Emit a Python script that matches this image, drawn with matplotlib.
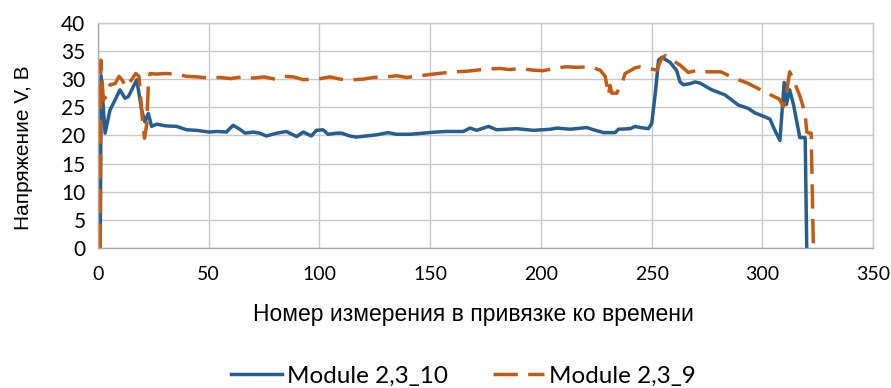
#!/usr/bin/env python3
"""
Voltage trace of two modules vs. measurement number
"""

import matplotlib
matplotlib.use('Agg')
import matplotlib.pyplot as plt
from matplotlib.ticker import MultipleLocator

# Module 2,3_10 (solid blue)
x_m10 = [1, 1.4, 3.2, 5.4, 7.7, 9.9, 12.2, 13.7, 17.5, 19.7, 21.2, 22.7, 24.2, 26.5,
         30.5, 35.5, 40, 44.6, 50, 53.6, 58, 61, 64, 66.4, 70, 73, 76, 80.7, 85,
         89.7, 92.7, 96.3, 98.6, 101.6, 103.9, 107.6, 110, 113.6, 116.6, 121.2,
         125.7, 131, 134.7, 140.7, 146.7, 152.7, 157.3, 164.9, 168, 171, 176.3,
         180, 189, 196.6, 204.2, 207.2, 213.2, 220.7, 223.7, 228.3, 233.5, 235,
         240.3, 242.5, 244.8, 248.5, 250, 251.6, 253.1, 254.6, 256.1, 258.3,
         261.3, 262.8, 264.3, 267.3, 269.6, 271.8, 277.1, 283.1, 289.1, 293.6,
         296.6, 301.1, 303.4, 305.6, 307.9, 309.8, 310.8, 312.3, 314, 316.9,
         319.3, 320]
v_m10 = [0, 30.6, 20.4, 24.5, 26.3, 28.1, 26.6, 26.9, 29.9, 24.5, 22.4, 23.9, 21.6, 22.0,
         21.7, 21.6, 21.0, 20.9, 20.6, 20.7, 20.6, 21.8, 21.1, 20.4, 20.6, 20.4, 19.9, 20.4, 20.7,
         19.8, 20.6, 19.9, 20.9, 21.0, 20.2, 20.4, 20.4, 19.9, 19.7, 19.9,
         20.1, 20.5, 20.2, 20.2, 20.4, 20.6, 20.7, 20.7, 21.3, 20.9, 21.6,
         21.0, 21.2, 20.9, 21.1, 21.3, 21.1, 21.4, 21.0, 20.5, 20.5, 21.1,
         21.2, 21.6, 21.4, 21.2, 22.1, 27.4, 33.4, 33.9, 33.5, 33.0,
         31.5, 29.5, 29.0, 29.2, 29.5, 29.3, 28.1, 27.2, 25.4, 24.8,
         24.0, 23.3, 22.9, 20.9, 19.1, 29.4, 25.5, 28.1, 25.5, 19.6,
         19.6, 0]

# Module 2,3_9 (dashed orange)
x_m9 = [1, 1.3, 2.4, 3.9, 5.4, 7.7, 9.5, 11, 12.5, 15, 17, 18.5, 20, 21, 22, 22.7,
        23.5, 26, 30.5, 35, 40, 45, 50, 55, 60, 65, 70, 75, 80, 83.7, 88.2, 92.7,
        100.3, 104.8, 109.3, 115.3, 119.8, 124.3, 130.4, 134.9, 139.4, 145.4,
        151.4, 155.9, 160.4, 166.4, 170.9, 175.5, 181.5, 186, 190.5, 196.5, 201,
        207, 211.5, 216, 222.2, 226.7, 229, 230.5, 231.2, 232, 234.2, 236.5, 238,
        242.5, 244.8, 247.8, 252.3, 254.4, 256.1, 258.3, 262.8, 266.5, 271,
        275.2, 281.2, 287.2, 293.2, 299.2, 305.2, 307.5, 309.5, 310.8, 312.3,
        314, 317, 319.3, 320, 321.3, 322, 323]
v_m9 = [0, 33.4, 26.3, 27.0, 29.0, 29.2, 30.5, 29.8, 28.6, 29.8, 31.0, 30.5, 23.0, 19.5, 22.0, 28.7,
        31.0, 30.9, 31.0, 30.9, 30.5, 30.4, 30.2, 30.3, 30.1, 30.4, 30.2, 30.4, 30.0, 30.5, 30.4, 29.9,
        30.1, 30.4, 30.0, 29.9, 30.0, 30.3, 30.4, 30.6, 30.3, 30.6,
        30.9, 31.1, 31.3, 31.4, 31.6, 31.8, 31.9, 31.7, 31.9, 31.6, 31.5,
        32.0, 32.2, 32.1, 32.2, 31.6, 30.5, 27.2, 28.9, 27.5, 27.5, 29.2, 31.0,
        32.0, 32.2, 32.0, 31.6, 33.6, 34.2, 33.6, 32.5, 31.2, 31.6,
        31.3, 31.3, 30.2, 29.3, 28.1, 26.9, 26.5, 25.1, 27.5, 31.3,
        29.9, 26.9, 23.9, 20.6, 20.4, 20.4, 0]

BLUE = '#255E91'
ORANGE = '#C55A11'

fig = plt.figure(figsize=(8.91, 3.88), dpi=100)
ax = fig.add_axes([0.110, 0.361, 0.870, 0.580])

ax.plot(x_m10, v_m10, color=BLUE, linewidth=2.5, label='Module 2,3_10')
ax.plot(x_m9, v_m9, color=ORANGE, linewidth=2.5, linestyle=(0, (7, 3)),
        dash_capstyle='butt', label='Module 2,3_9')

ax.set_xlim(0, 350)
ax.set_ylim(0, 40)
ax.xaxis.set_major_locator(MultipleLocator(50))
ax.yaxis.set_major_locator(MultipleLocator(5))
ax.grid(True, color='#C8C8C8', linewidth=1.0)
ax.set_axisbelow(True)
for side in ['top', 'right']:
    ax.spines[side].set_color('#C8C8C8')
for side in ['left', 'bottom']:
    ax.spines[side].set_color('#A8A8A8')
for sp in ax.spines.values():
    sp.set_linewidth(1.0)

# tick labels (Calibri-like)
ax.tick_params(axis='x', length=0, pad=13, labelsize=14)
ax.tick_params(axis='y', length=0, pad=9, labelsize=15)
for lbl in ax.get_xticklabels() + ax.get_yticklabels():
    lbl.set_fontfamily('Lato')

ax.set_xlabel('Номер измерения в привязке ко времени', fontsize=16.5,
              fontfamily='Liberation Sans')
ax.set_ylabel('Напряжение V, В', fontsize=15, fontfamily='Liberation Sans')
ax.xaxis.set_label_coords(0.484, -0.244)
ax.yaxis.set_label_coords(-0.084, 0.444)

fig.legend(loc='center', bbox_to_anchor=(0.520, 0.031), ncol=2, frameon=False,
           prop={'family': 'Lato', 'size': 17.5}, handlelength=2.1, columnspacing=1.85,
           handletextpad=0.2)

plt.savefig('out.png', dpi=100)
plt.close()
